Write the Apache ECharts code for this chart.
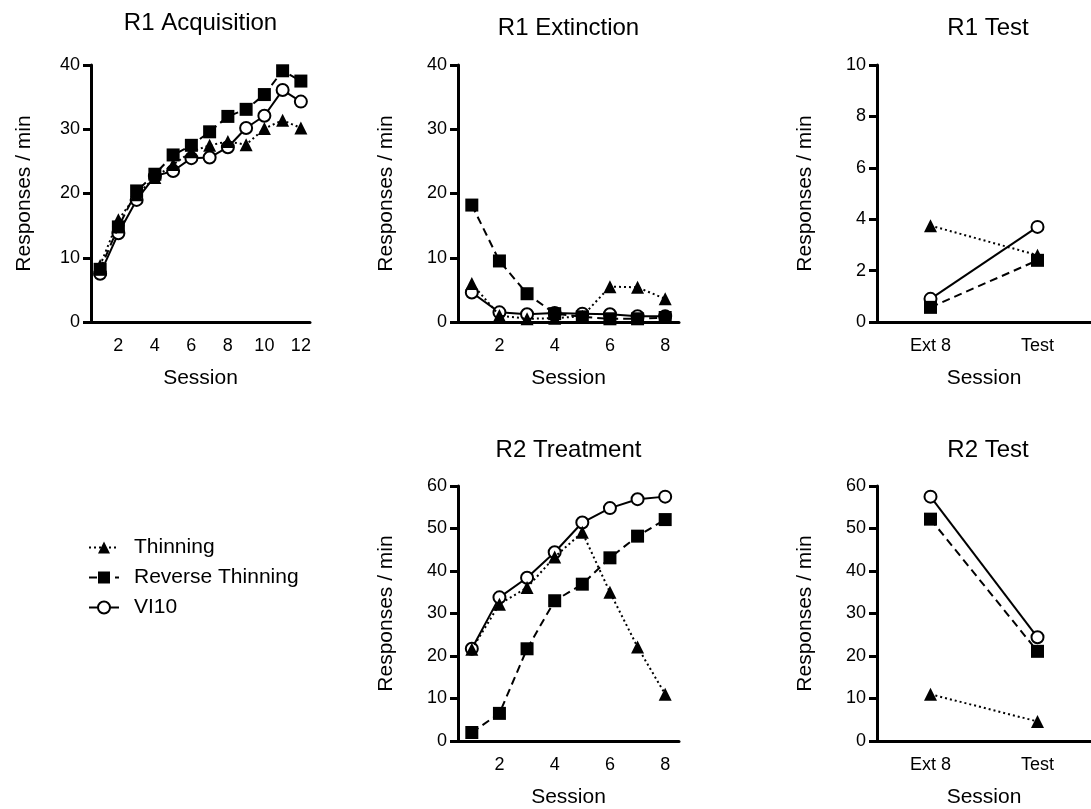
<!DOCTYPE html>
<html>
<head>
<meta charset="utf-8">
<script src="https://cdn.jsdelivr.net/npm/echarts@6/dist/echarts.min.js"></script>
<style>
  html, body { margin: 0; padding: 0; background: #fff; }
  #main { width: 1091px; height: 809px; }
</style>
</head>
<body>
<div id="main"></div>
<script>
// session labels
const acqSessions = ["1", "2", "3", "4", "5", "6", "7", "8", "9", "10", "11", "12"];
const extSessions = ["1", "2", "3", "4", "5", "6", "7", "8"];
const testSessions = ["Ext 8", "Test"];

// R1 Acquisition
const acqThinning = [8.8, 15.9, 19.8, 22.5, 24.5, 26.5, 27.5, 28.1, 27.6, 30.1, 31.4, 30.2];
const acqReverse = [8.2, 14.8, 20.4, 23.0, 26.0, 27.5, 29.6, 32.0, 33.1, 35.4, 39.1, 37.5];
const acqVI10 = [7.5, 13.8, 19.0, 22.7, 23.5, 25.5, 25.6, 27.2, 30.2, 32.1, 36.1, 34.3];

// R1 Extinction
const extThinning = [6.0, 1.0, 0.5, 0.6, 0.9, 5.5, 5.4, 3.6];
const extReverse = [18.2, 9.5, 4.4, 1.3, 0.8, 0.5, 0.5, 0.7];
const extVI10 = [4.6, 1.5, 1.2, 1.4, 1.3, 1.2, 0.9, 0.9];

// R1 Test
const r1TestThinning = [3.75, 2.6];
const r1TestReverse = [0.57, 2.4];
const r1TestVI10 = [0.9, 3.7];

// R2 Treatment
const trtThinning = [21.6, 32.2, 36.1, 43.3, 49.1, 35.0, 22.1, 11.0];
const trtReverse = [2.0, 6.5, 21.7, 33.0, 36.9, 43.1, 48.2, 52.1];
const trtVI10 = [21.7, 33.8, 38.4, 44.4, 51.4, 54.8, 56.9, 57.5];

// R2 Test
const r2TestThinning = [11.0, 4.6];
const r2TestReverse = [52.2, 21.1];
const r2TestVI10 = [57.5, 24.4];

const FONT = "Liberation Sans, Arial, sans-serif";

// each panel: grid box, axes, title
const panels = [
  { title: "R1 Acquisition", cats: acqSessions, ymax: 40, step: 10, left: 91, top: 65, width: 219, titleTop: 11, nameGap: 56,
    labelEvery: 2, data: [acqVI10, acqReverse, acqThinning] },
  { title: "R1 Extinction", cats: extSessions, ymax: 40, step: 10, left: 458, top: 65, width: 221, titleTop: 16, nameGap: 61,
    labelEvery: 2, data: [extVI10, extReverse, extThinning] },
  { title: "R1 Test", cats: testSessions, ymax: 10, step: 2, left: 877, top: 65, width: 220, titleTop: 16, nameGap: 61,
    labelEvery: 1, data: [r1TestVI10, r1TestReverse, r1TestThinning] },
  { title: "R2 Treatment", cats: extSessions, ymax: 60, step: 10, left: 458, top: 486, width: 221, titleTop: 438, nameGap: 61,
    labelEvery: 2, data: [trtVI10, trtReverse, trtThinning] },
  { title: "R2 Test", cats: testSessions, ymax: 60, step: 10, left: 877, top: 486, width: 220, titleTop: 438, nameGap: 61,
    labelEvery: 1, data: [r2TestVI10, r2TestReverse, r2TestThinning] }
];

// series styles (VI10 drawn first, thinning on top)
const styles = [
  { name: "VI10", symbol: "circle", size: 12, line: "solid",
    item: { color: "#fff", borderColor: "#000", borderWidth: 2 } },
  { name: "Reverse Thinning", symbol: "rect", size: 13, line: [8, 5],
    item: { color: "#000", borderColor: "#000", borderWidth: 0 } },
  { name: "Thinning", symbol: "triangle", size: 13, line: [2, 3],
    item: { color: "#000", borderColor: "#000", borderWidth: 0 } }
];

let grids = [], xAxes = [], yAxes = [], titles = [], series = [];

panels.forEach((p, i) => {
  grids.push({ left: p.left, top: p.top, width: p.width, height: 257 });
  titles.push({
    text: p.title,
    left: p.left + (p.cats.length === 2 ? 111 : p.width / 2),
    textAlign: "center",
    top: p.titleTop,
    padding: 0,
    textStyle: { fontFamily: FONT, fontSize: 24, fontWeight: "normal", color: "#000" }
  });
  xAxes.push({
    type: "category",
    gridIndex: i,
    data: p.cats,
    boundaryGap: true,
    name: "Session",
    nameLocation: "middle",
    nameGap: 46,
    nameTextStyle: { fontFamily: FONT, fontSize: 21, color: "#000" },
    axisLine: { lineStyle: { color: "#000", width: 3 } },
    axisTick: { alignWithLabel: true, interval: 0, length: 9, lineStyle: { color: "#000", width: 3 } },
    axisLabel: {
      interval: p.labelEvery === 2 ? function (idx) { return idx % 2 === 1; } : 0,
      margin: 15, fontFamily: FONT, fontSize: 18, color: "#000"
    },
    splitLine: { show: false }
  });
  yAxes.push({
    type: "value",
    gridIndex: i,
    min: 0, max: p.ymax, interval: p.step,
    name: "Responses / min",
    nameLocation: "middle",
    nameGap: p.nameGap,
    nameTextStyle: { fontFamily: FONT, fontSize: 21, color: "#000" },
    axisLine: { show: true, lineStyle: { color: "#000", width: 3 } },
    axisTick: { show: true, length: 8, lineStyle: { color: "#000", width: 3 } },
    axisLabel: { margin: 11, fontFamily: FONT, fontSize: 18, color: "#000" },
    splitLine: { show: false }
  });
  styles.forEach((s, k) => {
    series.push({
      name: s.name,
      type: "line",
      xAxisIndex: i,
      yAxisIndex: i,
      data: p.data[k],
      symbol: s.symbol,
      symbolSize: s.size,
      showAllSymbol: true,
      lineStyle: { color: "#000", width: 2, type: s.line },
      itemStyle: s.item,
      animation: false,
      z: 2 + k
    });
  });
});

const chart = echarts.init(document.getElementById("main"));
chart.setOption({
  backgroundColor: "#fff",
  animation: false,
  title: titles,
  legend: {
    orient: "vertical",
    left: 88,
    top: 537,
    padding: 0,
    itemWidth: 30,
    itemHeight: 15,
    itemGap: 9,
    data: ["Thinning", "Reverse Thinning", "VI10"],
    textStyle: { fontFamily: FONT, fontSize: 21, color: "#000", padding: [0, 0, 0, 10] }
  },
  grid: grids,
  xAxis: xAxes,
  yAxis: yAxes,
  series: series
});
</script>
</body>
</html>
